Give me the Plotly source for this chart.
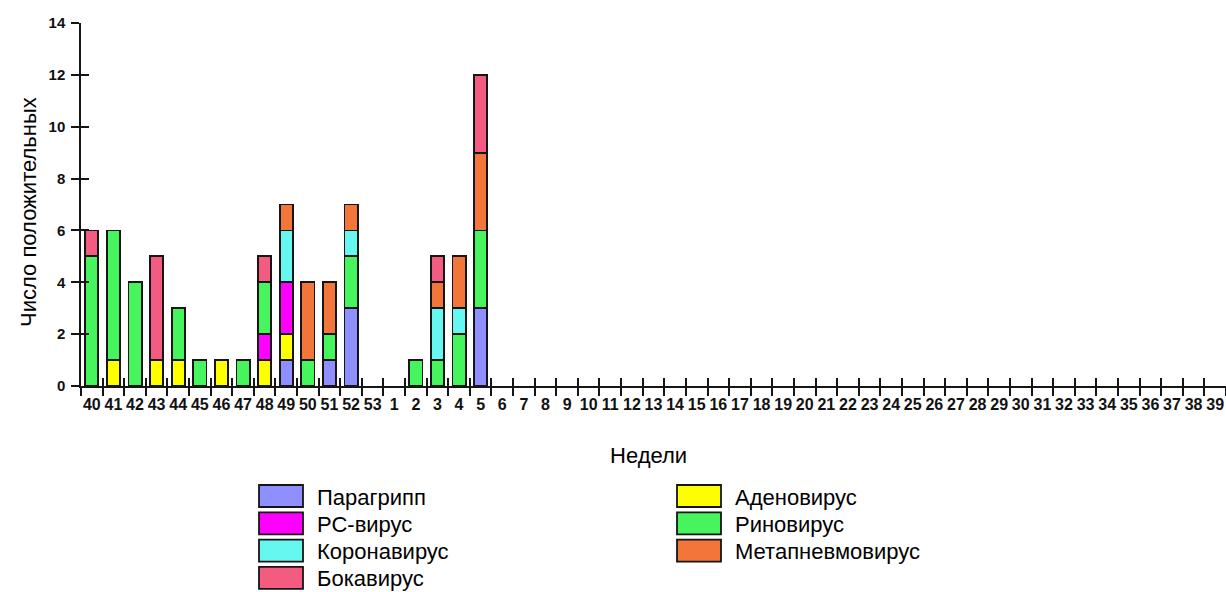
import plotly.graph_objects as go

weeks = [str(w) for w in list(range(40, 54)) + list(range(1, 40))]

series_names = ["Парагрипп", "Аденовирус", "РС-вирус", "Риновирус",
                "Коронавирус", "Метапневмовирус", "Бокавирус"]
colors = ["#8f8fff", "#ffff00", "#ff00ff", "#46f55e", "#66f8f0", "#f2763a", "#f45b80"]

def fill(d):
    return [d.get(w, 0) for w in weeks]

paragripp = fill({"49": 1, "51": 1, "52": 3, "5": 3})
adeno = fill({"41": 1, "43": 1, "44": 1, "46": 1, "48": 1, "49": 1})
rs = fill({"48": 1, "49": 2})
rhino = fill({"40": 5, "41": 5, "42": 4, "44": 2, "45": 1, "47": 1, "48": 2,
              "50": 1, "51": 1, "52": 2, "2": 1, "3": 1, "4": 2, "5": 3})
corona = fill({"49": 2, "52": 1, "3": 2, "4": 1})
metap = fill({"49": 1, "50": 3, "51": 2, "52": 1, "3": 1, "4": 2, "5": 3})
boca = fill({"40": 1, "43": 4, "48": 1, "3": 1, "5": 3})

series_values = [paragripp, adeno, rs, rhino, corona, metap, boca]

y_title = "Число положительных"
x_title = "Недели"

# legend layout: left column then right column
legend_left = ["Парагрипп", "РС-вирус", "Коронавирус", "Бокавирус"]
legend_right = ["Аденовирус", "Риновирус", "Метапневмовирус"]

W, H = 1226, 592
ML, MR, MT, MB = 81, 0, 23, 592 - 386
PW = W - ML - MR
PH = H - MT - MB

def px2x(px):
    return (px - ML) / PW

def py2y(py):
    return (H - MB - py) / PH

FONT = "Liberation Sans, Arial, sans-serif"
EDGE = "#151515"

fig = go.Figure()
for name, vals, col in zip(series_names, series_values, colors):
    fig.add_trace(go.Bar(x=weeks, y=[v if v else None for v in vals], name=name,
                         marker=dict(color=col, line=dict(color=EDGE, width=1.8)),
                         showlegend=False))

# dummy trace for the overlay axis (inner halves of ticks)
fig.add_trace(go.Bar(x=weeks, y=[None] * len(weeks), xaxis="x2", yaxis="y2", showlegend=False,
                     hoverinfo="skip", marker=dict(opacity=0, line=dict(width=0))))

shapes = []
annotations = []
color_of = dict(zip(series_names, colors))
for col_names, bx0, tx in [(legend_left, 259, 315), (legend_right, 677, 733)]:
    for i, nm in enumerate(col_names):
        cy = 496 + i * 27.3
        shapes.append(dict(type="rect", xref="paper", yref="paper",
                           x0=px2x(bx0), x1=px2x(bx0 + 44), y0=py2y(cy - 11), y1=py2y(cy + 11),
                           fillcolor=color_of[nm], line=dict(color=EDGE, width=1.8)))
        annotations.append(dict(text=nm, xref="paper", yref="paper", x=px2x(tx), y=py2y(cy + 1),
                                xanchor="left", yanchor="middle", showarrow=False,
                                font=dict(family=FONT, size=22, color="#000")))

annotations.append(dict(text=x_title, xref="paper", yref="paper", x=px2x(648), y=py2y(455),
                        xanchor="center", yanchor="middle", showarrow=False,
                        font=dict(family=FONT, size=22, color="#000")))
annotations.append(dict(text=y_title, xref="paper", yref="paper", x=px2x(28), y=py2y(212),
                        xanchor="center", yanchor="middle", showarrow=False, textangle=-90,
                        font=dict(family=FONT, size=22, color="#000")))

fig.update_layout(
    width=W, height=H,
    margin=dict(l=ML, r=MR, t=MT, b=MB, pad=0),
    barmode="stack", bargap=0.39,
    plot_bgcolor="white", paper_bgcolor="white",
    font=dict(family=FONT, color="#000"),
    xaxis=dict(type="category", categoryorder="array", categoryarray=weeks,
               range=[-0.5, len(weeks) - 0.5], ticks="outside", ticklen=8, tickwidth=1.5,
               tickcolor=EDGE, tickson="boundaries", showline=True, linecolor=EDGE,
               linewidth=1.5, showgrid=False, zeroline=False, tickangle=0,
               ticklabelstandoff=3,
               tickfont=dict(family=FONT, size=16, color="#111", weight="bold")),
    yaxis=dict(range=[0, 14], dtick=2, tick0=0, ticks="outside", ticklen=8, tickwidth=1.5,
               tickcolor=EDGE, showline=True, linecolor=EDGE, linewidth=1.5,
               showgrid=False, zeroline=False, ticklabelstandoff=3,
               tickfont=dict(family=FONT, size=15, color="#111", weight="bold")),
    xaxis2=dict(type="category", categoryorder="array", categoryarray=weeks, overlaying="x",
                matches="x", ticks="inside", ticklen=8, tickwidth=1.5, tickcolor=EDGE,
                tickson="boundaries", showticklabels=False, showline=False, showgrid=False,
                zeroline=False),
    yaxis2=dict(overlaying="y", matches="y", range=[0, 14], dtick=2, tick0=0, ticks="inside",
                ticklen=8, tickwidth=1.5, tickcolor=EDGE, showticklabels=False,
                showline=False, showgrid=False, zeroline=False),
    shapes=shapes, annotations=annotations,
)

fig.write_html("out.html", config={"displayModeBar": False},
               post_script="document.body.style.margin='0';document.body.style.overflow='hidden';")
